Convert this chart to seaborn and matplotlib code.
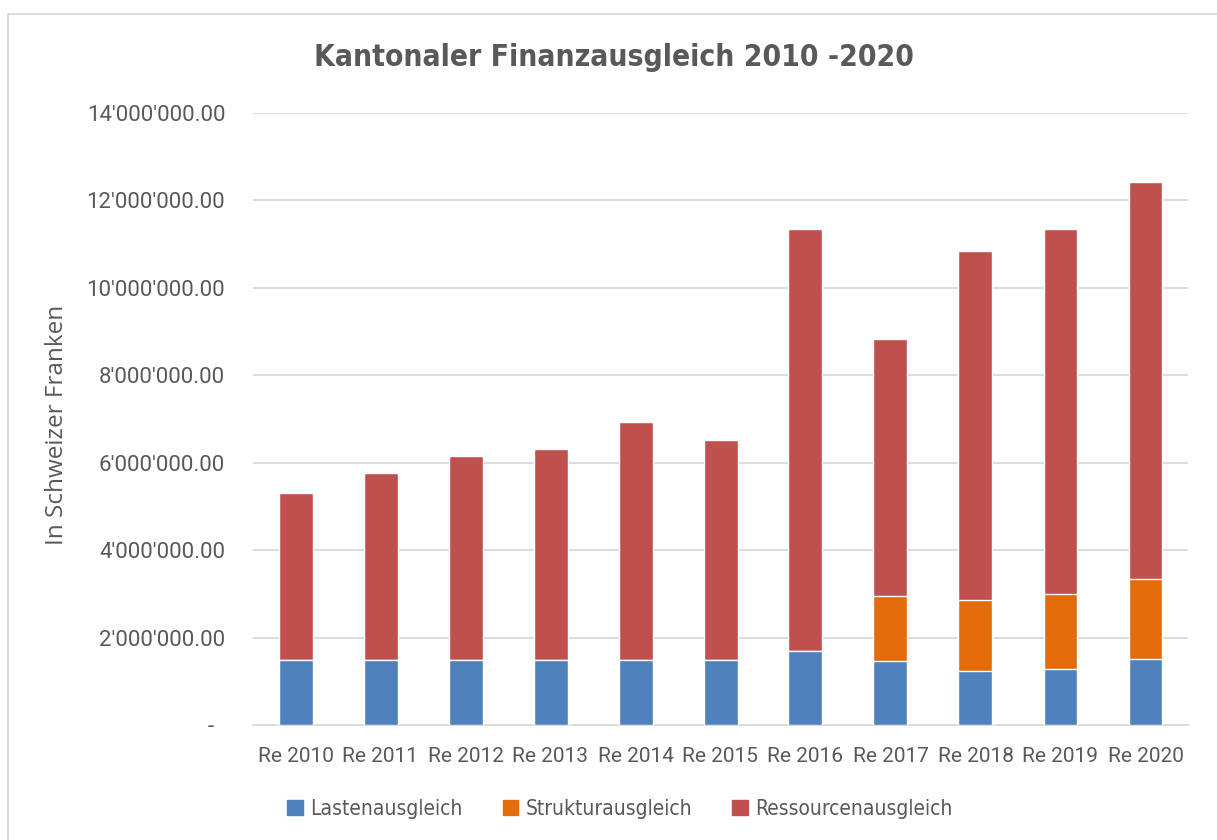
import matplotlib
matplotlib.use("Agg")
import numpy as np
import pandas as pd
import seaborn as sns
import matplotlib.pyplot as plt
from matplotlib.patches import Rectangle, Patch
from matplotlib.ticker import FuncFormatter
from matplotlib.font_manager import FontProperties

# ------ Daten (in CHF) ------ #
jahre = ["Re 2010", "Re 2011", "Re 2012", "Re 2013", "Re 2014", "Re 2015",
         "Re 2016", "Re 2017", "Re 2018", "Re 2019", "Re 2020"]
lastenausgleich = [1490000, 1490000, 1490000, 1490000, 1490000, 1490000,
                   1690000, 1460000, 1240000, 1290000, 1520000]
strukturausgleich = [0, 0, 0, 0, 0, 0,
                     0, 1500000, 1610000, 1700000, 1810000]
ressourcenausgleich = [3810000, 4270000, 4670000, 4820000, 5430000, 5020000,
                       9650000, 5860000, 8000000, 8350000, 9100000]

BLUE = "#4F81BD"
ORANGE = "#E36C0A"
RED = "#C0504D"
GREY_TXT = "#595959"
GRID = "#D9D9D9"

df = pd.DataFrame({
    "Jahr": jahre,
    "Lasten": lastenausgleich,
    "Struktur": strukturausgleich,
    "Ressourcen": ressourcenausgleich,
})
df["bis_Struktur"] = df["Lasten"] + df["Struktur"]
df["Total"] = df["bis_Struktur"] + df["Ressourcen"]

sns.set_style("white")
plt.rcParams["font.family"] = ["Roboto", "DejaVu Sans"]

W, H = 1217, 840
fig = plt.figure(figsize=(W / 100, H / 100), dpi=100)
ax = fig.add_axes([253 / W, 1 - 725 / H, (1188 - 253) / W, (725 - 113) / H])

# ------ gestapelte Balken (von oben nach unten überlagert) ------ #
sns.barplot(data=df, x="Jahr", y="Total", color=RED, width=0.4,
            saturation=1, ax=ax, zorder=3)
sns.barplot(data=df, x="Jahr", y="bis_Struktur", color=ORANGE, width=0.4,
            saturation=1, ax=ax, zorder=3)
sns.barplot(data=df, x="Jahr", y="Lasten", color=BLUE, width=0.4,
            saturation=1, ax=ax, zorder=3)

ax.set_ylim(0, 14000000)
ax.set_xlim(-0.5, len(jahre) - 0.5)
ax.set_yticks(np.arange(0, 14000001, 2000000))


def chf(v, pos):
    if v == 0:
        return "-  "
    return f"{v:,.2f}".replace(",", "'")


ax.yaxis.set_major_formatter(FuncFormatter(chf))
ax.grid(axis="y", color=GRID, linewidth=1.3, zorder=0)
ax.set_axisbelow(True)
for s in ["top", "right", "left"]:
    ax.spines[s].set_visible(False)
ax.spines["bottom"].set_color(GRID)
ax.spines["bottom"].set_linewidth(1.3)
ax.tick_params(axis="both", length=0, labelcolor=GREY_TXT)
ax.tick_params(axis="y", pad=20, labelsize=16)
ax.tick_params(axis="x", pad=16, labelsize=15)
ax.set_xlabel("")
ax.set_ylabel("")

# ------ Titel und Achsenbeschriftung ------ #
narrow = ["Liberation Sans Narrow", "DejaVu Sans"]
titel = fig.text(614 / W, 1 - 57 / H, "Kantonaler Finanzausgleich 2010 -2020",
                 ha="center", va="center", fontsize=26, fontweight="bold",
                 fontstretch="condensed", color=GREY_TXT, family=narrow)
fig.text(57 / W, 1 - 425 / H, "In Schweizer Franken", rotation=90,
         ha="center", va="center", fontsize=17.5, color=GREY_TXT,
         family=["Open Sans", "DejaVu Sans"])

# Titelbreite an Vorlage anpassen (~601 px)
fig.canvas.draw()
r = fig.canvas.get_renderer()
bw = titel.get_window_extent(r).width
titel.set_fontsize(26 * 601 / bw)

# ------ Legende ------ #
handles = [Patch(color=BLUE, label="Lastenausgleich"),
           Patch(color=ORANGE, label="Strukturausgleich"),
           Patch(color=RED, label="Ressourcenausgleich")]


def legende(size):
    return fig.legend(handles=handles, loc="center",
                      bbox_to_anchor=(620 / W, 1 - 809 / H),
                      ncol=3, frameon=False, handlelength=0.75, handleheight=0.75,
                      handletextpad=0.35, columnspacing=1.9,
                      prop=FontProperties(family=narrow, size=size,
                                          stretch="condensed"),
                      labelcolor=GREY_TXT)


leg = legende(17)
fig.canvas.draw()
lw = leg.get_window_extent(fig.canvas.get_renderer()).width
leg.remove()
leg = legende(17 * 680 / lw)

# ------ Rahmen ------ #
fig.patches.append(Rectangle((8 / W, -0.05), 1.1, 1 - 14 / H + 0.05,
                             transform=fig.transFigure, fill=False,
                             edgecolor=GRID, linewidth=1.3))

plt.savefig("out.png", dpi=100)
